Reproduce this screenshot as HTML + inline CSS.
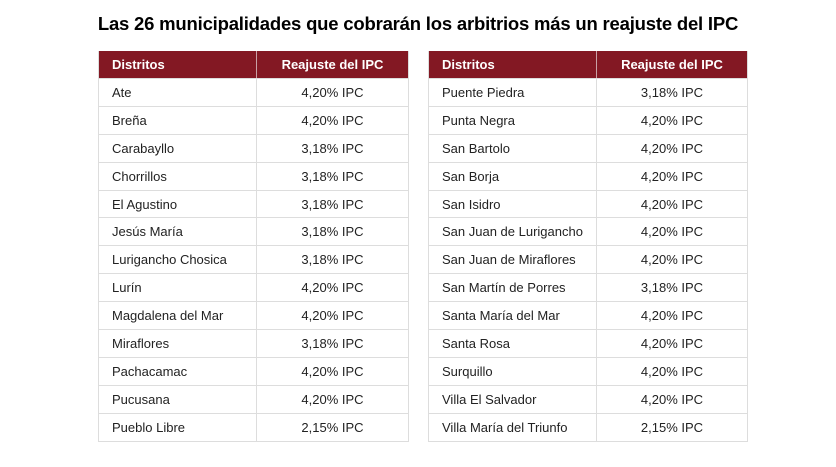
<!DOCTYPE html>
<html><head><meta charset="utf-8"><style>
body{margin:0;width:836px;height:467px;background:#fff;font-family:"Liberation Sans",sans-serif;position:relative;overflow:hidden}
h1{position:absolute;left:0;width:836px;top:13px;margin:0;text-align:center;font-size:18.5px;font-weight:bold;color:#000;letter-spacing:-0.2px}
.t{position:absolute;top:51px;border:1px solid #ddd;border-top:none;box-sizing:border-box}
.r{display:flex;height:27.9px;border-top:1px solid #ddd;box-sizing:border-box;font-size:13px;color:#222;align-items:center}
.r div{height:100%;display:flex;align-items:center;box-sizing:border-box}
.r .a{padding-left:13px;border-right:1px solid #ddd}
.r .b{justify-content:center;flex:1}
.h{background:#831823;color:#fff;font-weight:bold;border-top:none;height:27px}
.h .a{border-right:1px solid #c9a0a5}
</style></head><body>
<h1>Las 26 municipalidades que cobrarán los arbitrios más un reajuste del IPC</h1>
<div class="t" style="left:98px;width:311px">
<div class="r h"><div class="a" style="width:158px">Distritos</div><div class="b">Reajuste del IPC</div></div>
<div class="r"><div class="a" style="width:158px">Ate</div><div class="b">4,20% IPC</div></div>
<div class="r"><div class="a" style="width:158px">Breña</div><div class="b">4,20% IPC</div></div>
<div class="r"><div class="a" style="width:158px">Carabayllo</div><div class="b">3,18% IPC</div></div>
<div class="r"><div class="a" style="width:158px">Chorrillos</div><div class="b">3,18% IPC</div></div>
<div class="r"><div class="a" style="width:158px">El Agustino</div><div class="b">3,18% IPC</div></div>
<div class="r"><div class="a" style="width:158px">Jesús María</div><div class="b">3,18% IPC</div></div>
<div class="r"><div class="a" style="width:158px">Lurigancho Chosica</div><div class="b">3,18% IPC</div></div>
<div class="r"><div class="a" style="width:158px">Lurín</div><div class="b">4,20% IPC</div></div>
<div class="r"><div class="a" style="width:158px">Magdalena del Mar</div><div class="b">4,20% IPC</div></div>
<div class="r"><div class="a" style="width:158px">Miraflores</div><div class="b">3,18% IPC</div></div>
<div class="r"><div class="a" style="width:158px">Pachacamac</div><div class="b">4,20% IPC</div></div>
<div class="r"><div class="a" style="width:158px">Pucusana</div><div class="b">4,20% IPC</div></div>
<div class="r"><div class="a" style="width:158px">Pueblo Libre</div><div class="b">2,15% IPC</div></div>
</div>
<div class="t" style="left:428px;width:320px">
<div class="r h"><div class="a" style="width:168px">Distritos</div><div class="b">Reajuste del IPC</div></div>
<div class="r"><div class="a" style="width:168px">Puente Piedra</div><div class="b">3,18% IPC</div></div>
<div class="r"><div class="a" style="width:168px">Punta Negra</div><div class="b">4,20% IPC</div></div>
<div class="r"><div class="a" style="width:168px">San Bartolo</div><div class="b">4,20% IPC</div></div>
<div class="r"><div class="a" style="width:168px">San Borja</div><div class="b">4,20% IPC</div></div>
<div class="r"><div class="a" style="width:168px">San Isidro</div><div class="b">4,20% IPC</div></div>
<div class="r"><div class="a" style="width:168px">San Juan de Lurigancho</div><div class="b">4,20% IPC</div></div>
<div class="r"><div class="a" style="width:168px">San Juan de Miraflores</div><div class="b">4,20% IPC</div></div>
<div class="r"><div class="a" style="width:168px">San Martín de Porres</div><div class="b">3,18% IPC</div></div>
<div class="r"><div class="a" style="width:168px">Santa María del Mar</div><div class="b">4,20% IPC</div></div>
<div class="r"><div class="a" style="width:168px">Santa Rosa</div><div class="b">4,20% IPC</div></div>
<div class="r"><div class="a" style="width:168px">Surquillo</div><div class="b">4,20% IPC</div></div>
<div class="r"><div class="a" style="width:168px">Villa El Salvador</div><div class="b">4,20% IPC</div></div>
<div class="r"><div class="a" style="width:168px">Villa María del Triunfo</div><div class="b">2,15% IPC</div></div>
</div>
</body></html>
